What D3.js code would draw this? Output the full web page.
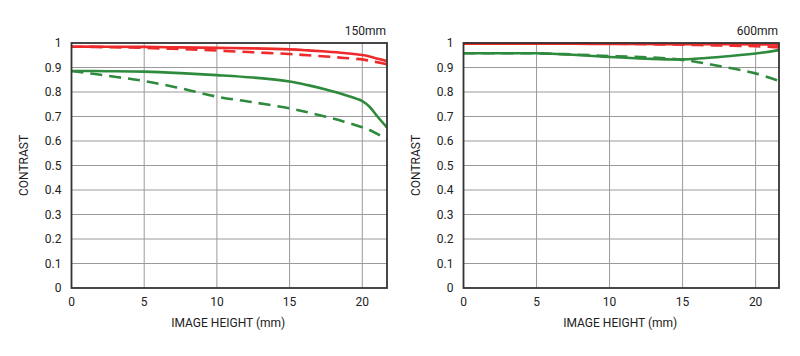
<!DOCTYPE html>
<html><head><meta charset="utf-8">
<script src="https://cdn.jsdelivr.net/npm/d3@7"></script>
<style>
body{margin:0;background:#fff;}
text{font-family:Roboto,"Liberation Sans",sans-serif;fill:#222;}
</style></head>
<body><svg id="c" width="800" height="356"></svg>
<script>
// Data (image height in mm, contrast)
const xTicks = [0,5,10,15,20];
const yTicks = [0,0.1,0.2,0.3,0.4,0.5,0.6,0.7,0.8,0.9,1];
const yTickLabels = ["0","0.1","0.2","0.3","0.4","0.5","0.6","0.7","0.8","0.9","1"];

const h150 = [0,2.5,5,7.5,10,12.5,15,16.25,17.5,18.75,20,20.5,21,21.7];
const r150Solid  = [0.985,0.985,0.984,0.982,0.980,0.978,0.974,0.970,0.965,0.959,0.951,0.945,0.937,0.926];
const r150Dashed = [0.985,0.983,0.980,0.975,0.969,0.962,0.955,0.950,0.945,0.939,0.933,0.928,0.922,0.913];
const g150Solid  = [0.886,0.885,0.883,0.877,0.869,0.859,0.843,0.828,0.810,0.789,0.763,0.740,0.703,0.655];
const g150Dashed = [0.886,0.866,0.845,0.815,0.781,0.758,0.733,0.717,0.699,0.679,0.656,0.645,0.630,0.608];

const h600 = [0,2.5,5,7.5,10,12.5,15,17.5,20,21.6];
const r600Solid  = [0.997,0.997,0.997,0.997,0.996,0.996,0.995,0.995,0.994,0.993];
const r600Dashed = [0.997,0.997,0.997,0.997,0.997,0.995,0.993,0.990,0.987,0.982];
const g600Solid  = [0.958,0.958,0.958,0.952,0.943,0.936,0.933,0.943,0.957,0.971];
const g600Dashed = [0.958,0.958,0.958,0.953,0.947,0.942,0.931,0.906,0.876,0.845];

const panels = [
  {title:"150mm", left:71.5, right:387, h:h150, xMax:21.7,
   series:[{v:r150Solid,c:"#ee2b2b",d:null},{v:r150Dashed,c:"#ee2b2b",d:"12,7"},
           {v:g150Solid,c:"#2e8a3c",d:null},{v:g150Dashed,c:"#2e8a3c",d:"12,7"}]},
  {title:"600mm", left:463.5, right:779, h:h600, xMax:21.6,
   series:[{v:r600Solid,c:"#ee2b2b",d:null},{v:r600Dashed,c:"#ee2b2b",d:"12,7"},
           {v:g600Solid,c:"#2e8a3c",d:null},{v:g600Dashed,c:"#2e8a3c",d:"12,7"}]}
];

const svg = d3.select("#c");
const plotTop = 43, plotBottom = 288;

panels.forEach(p => {
  const x = d3.scaleLinear().domain([0,p.xMax]).range([p.left,p.right]);
  const y = d3.scaleLinear().domain([0,1]).range([plotBottom,plotTop]);
  const g = svg.append("g");
  g.selectAll(".vg").data(xTicks.filter(t=>t>0)).enter().append("line")
    .attr("x1",d=>x(d)).attr("x2",d=>x(d)).attr("y1",plotTop).attr("y2",plotBottom)
    .attr("stroke","#9a9a9a").attr("stroke-width",1);
  g.selectAll(".hg").data(yTicks.filter(t=>t>0&&t<1)).enter().append("line")
    .attr("x1",p.left).attr("x2",p.right).attr("y1",d=>y(d)).attr("y2",d=>y(d))
    .attr("stroke","#9a9a9a").attr("stroke-width",1);
  const clipId = "clip"+p.title;
  svg.append("clipPath").attr("id",clipId).append("rect")
    .attr("x",p.left).attr("y",plotTop-3).attr("width",p.right-p.left).attr("height",plotBottom-plotTop+3);
  const line = d3.line().x((d,i)=>x(p.h[i])).y(d=>y(d)).curve(d3.curveCatmullRom.alpha(0.5));
  p.series.forEach(s => {
    g.append("path").attr("d",line(s.v)).attr("fill","none")
      .attr("stroke",s.c).attr("stroke-width",2.6)
      .attr("stroke-dasharray",s.d).attr("clip-path","url(#"+clipId+")");
  });
  g.append("rect").attr("x",p.left).attr("y",plotTop).attr("width",p.right-p.left).attr("height",plotBottom-plotTop)
    .attr("fill","none").attr("stroke","#333").attr("stroke-width",1.8);
  g.selectAll(".yl").data(yTicks).enter().append("text")
    .attr("x",p.left-10).attr("y",d=>y(d)+4).attr("text-anchor","end")
    .attr("font-size",12).text((d,i)=>yTickLabels[i]);
  g.selectAll(".xl").data(xTicks).enter().append("text")
    .attr("x",d=>x(d)).attr("y",plotBottom+18).attr("text-anchor","middle")
    .attr("font-size",12).text(d=>d);
  g.append("text").attr("x",(p.left+p.right)/2 - 1).attr("y",plotBottom+39).attr("text-anchor","middle")
    .attr("font-size",12).text("IMAGE HEIGHT (mm)");
  g.append("text").attr("transform","translate("+(p.left-44)+","+((plotTop+plotBottom)/2)+") rotate(-90)")
    .attr("text-anchor","middle").attr("font-size",12).text("CONTRAST");
  g.append("text").attr("x",p.right-1).attr("y",plotTop-8).attr("text-anchor","end")
    .attr("font-size",12).text(p.title);
});
</script></body></html>
